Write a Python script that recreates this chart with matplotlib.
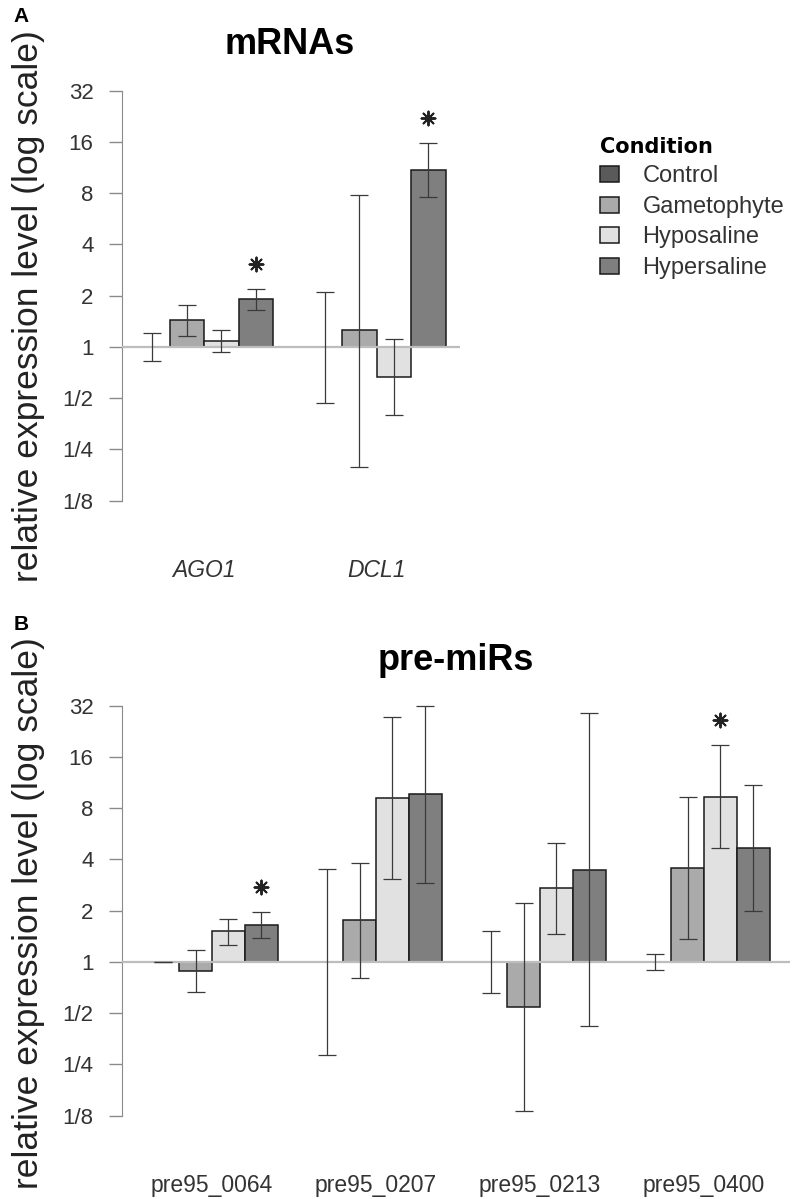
import numpy as np
import matplotlib
matplotlib.use("Agg")
import matplotlib.pyplot as plt
from matplotlib.ticker import NullLocator

plt.rcParams['font.family'] = ['Liberation Sans', 'DejaVu Sans']

# data, rows = conditions, columns = genes
# -------------------------------------------------------------------------------------
conditions = ['Control', 'Gametophyte', 'Hyposaline', 'Hypersaline']
colors = ['#5a5a5a', '#aaaaaa', '#e1e1e1', '#7f7f7f']

mrna_genes = ['AGO1', 'DCL1']
mrna_mean = [[1.00, 1.00], [1.43, 1.25], [1.09, 0.67], [1.90, 10.9]]
mrna_lo = [[0.83, 0.47], [1.16, 0.197], [0.935, 0.40], [1.65, 7.6]]
mrna_hi = [[1.21, 2.11], [1.76, 7.8], [1.26, 1.11], [2.20, 15.8]]
mrna_star_gene = [0, 1]
mrna_star_cond = [3, 3]
mrna_star_y = [3.08, 22.0]

premir_genes = ['pre95_0064', 'pre95_0207', 'pre95_0213', 'pre95_0400']
premir_mean = [[1.00, 1.00, 1.00, 1.00],
               [0.89, 1.76, 0.543, 3.58],
               [1.51, 9.20, 2.70, 9.36],
               [1.65, 9.67, 3.47, 4.69]]
premir_lo = [[1.00, 0.284, 0.66, 0.90],
             [0.666, 0.81, 0.133, 1.37],
             [1.26, 3.08, 1.45, 4.67],
             [1.38, 2.90, 0.418, 1.99]]
premir_hi = [[1.00, 3.52, 1.51, 1.11],
             [1.18, 3.81, 2.22, 9.30],
             [1.79, 27.6, 4.97, 18.8],
             [1.96, 32.0, 29.0, 11.0]]
premir_star_gene = [0, 3]
premir_star_cond = [3, 2]
premir_star_y = [2.76, 26.2]

ytick_vals = [2.0**k for k in range(-3, 6)]
ytick_labels = ['1/8', '1/4', '1/2', '1', '2', '4', '8', '16', '32']

W, H = 795, 1199


def draw_panel(ax, genes, mean, lo, hi, star_gene, star_cond, star_y, xlim, italic):
    ng = len(genes)
    handles = []
    for j, cond in enumerate(conditions):
        xs = np.arange(ng) * 5 + j + 0.5
        m = np.array(mean[j])
        b = ax.bar(xs, m - 1, bottom=1, width=1.0, color=colors[j],
                   edgecolor='#1a1a1a', linewidth=1.1, zorder=2, label=cond)
        handles.append(b)
        yerr = [m - np.array(lo[j]), np.array(hi[j]) - m]
        ax.errorbar(xs, m, yerr=yerr, fmt='none', ecolor='#3a3a3a',
                    elinewidth=0.9, capsize=6.2, capthick=0.9, zorder=4)
    ax.axhline(1, color='#bdbdbd', lw=1.6, zorder=3)

    # significance stars
    sx = np.array(star_gene) * 5 + np.array(star_cond) + 0.5
    ax.scatter(sx, star_y, marker=(8, 2, 0), s=100, color='#222222',
               linewidths=1.4, zorder=5)

    ax.set_yscale('log', base=2)
    ax.set_ylim(2**-4, 2**5.5)
    ax.set_xlim(*xlim)
    ax.set_yticks(ytick_vals)
    ax.set_yticklabels(ytick_labels)
    ax.yaxis.set_minor_locator(NullLocator())
    ax.set_xticks(np.arange(ng) * 5 + 2)
    ax.set_xticklabels(genes, fontsize=16.5, color='#333333',
                       style='italic' if italic else 'normal')
    ax.tick_params(axis='x', length=0, pad=5)
    ax.tick_params(axis='y', length=9.5, width=1, color='#8a8a8a',
                   labelsize=16, labelcolor='#333333', pad=11)
    for s in ['top', 'right', 'bottom']:
        ax.spines[s].set_visible(False)
    ax.spines['left'].set_color('#8a8a8a')
    ax.spines['left'].set_bounds(1 / 8, 32)
    return handles


fig = plt.figure(figsize=(W / 100, H / 100), dpi=100)

# panel A
# -------------------------------------------------------------------------------------
axA = fig.add_axes([122 / W, 1 - 552 / H, (460 - 122) / W, (552 - 65) / H])
hA = draw_panel(axA, mrna_genes, mrna_mean, mrna_lo, mrna_hi,
                mrna_star_gene, mrna_star_cond, mrna_star_y, (-0.377, 9.42), True)

leg = axA.legend(handles=hA, labels=conditions, title='Condition',
                 loc='upper left', bbox_to_anchor=(600 / W, 1 - 137 / H),
                 bbox_transform=fig.transFigure, frameon=False,
                 fontsize=17, handlelength=0.8, handleheight=0.65,
                 handletextpad=1.0, labelspacing=0.36, borderpad=0,
                 borderaxespad=0, alignment='left',
                 title_fontproperties={'family': 'DejaVu Sans',
                                       'weight': 'bold', 'size': 15})
for t in leg.get_texts():
    t.set_color('#333333')

# panel B
# -------------------------------------------------------------------------------------
axB = fig.add_axes([122 / W, 1 - 1167 / H, (790 - 122) / W, (1167 - 680) / H])
draw_panel(axB, premir_genes, premir_mean, premir_lo, premir_hi,
           premir_star_gene, premir_star_cond, premir_star_y, (-0.747, 19.62), False)

# titles, panel letters and axis labels
# -------------------------------------------------------------------------------------
fig.text(290 / W, 1 - 45 / H, 'mRNAs', ha='center', va='center',
         fontsize=26, fontweight='bold')
fig.text(456 / W, 1 - 660 / H, 'pre-miRs', ha='center', va='center',
         fontsize=26, fontweight='bold')
fig.text(21 / W, 1 - 16 / H, 'A', ha='center', va='center',
         fontsize=15, fontweight='bold')
fig.text(21 / W, 1 - 625 / H, 'B', ha='center', va='center',
         fontsize=15, fontweight='bold')
ylab = 'relative expression level (log scale)'
fig.text(29 / W, 1 - 306 / H, ylab, rotation=90, ha='center', va='center',
         fontsize=25.5, color='#222222')
fig.text(29 / W, 1 - 913 / H, ylab, rotation=90, ha='center', va='center',
         fontsize=25.5, color='#222222')

fig.savefig('out.png', dpi=100)
